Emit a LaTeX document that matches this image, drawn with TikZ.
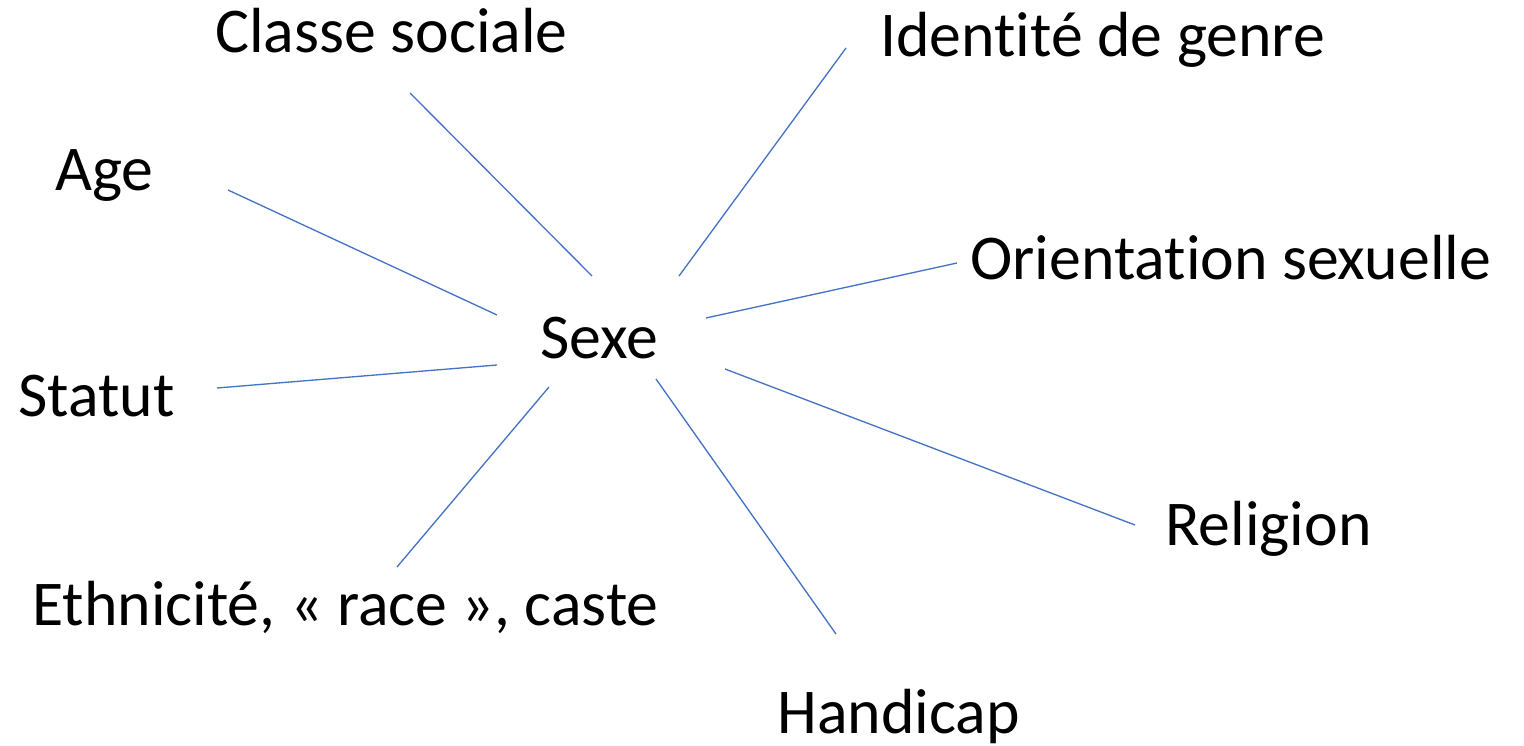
\documentclass[tikz,border=0pt]{standalone}
\usepackage{fontspec}
\setmainfont{Carlito}[RawFeature={-liga;-clig;-dlig}]
\usetikzlibrary{positioning}

\begin{document}
\begin{tikzpicture}[x=0.02cm, y=-0.02cm,
                font=\fontsize{36.3}{42}\selectfont,
                label/.style={inner sep=0pt, anchor=base west},
                spoke/.style={draw, color=spokeblue, line width=0.75pt},
            ]
            \definecolor{spokeblue}{HTML}{4472C4}
            \useasboundingbox (0,0) rectangle (1524,746);
            \node[label] (sexe) at (540,358) {Sexe};
            \node[label] (classe) at (215,53) {Classe sociale};
            \node[label] (genre) at (880,57) {Identité de genre};
            \node[label] (age) at (55,191) {Age};
            \node[label] (orient) at (970,280) {Orientation sexuelle};
            \node[label] (statut) at (18,416) {Statut};
            \node[label] (relig) at (1165,545) {Religion};
            \node[label] (ethn) at (32,625) {Ethnicité, « race », caste};
            \node[label] (handi) at (777,733) {Handicap};
            % free ends of the spokes
            \coordinate (c1) at (410,93);  \coordinate (s1) at (592,276);
            \coordinate (c2) at (846,48);  \coordinate (s2) at (679,276);
            \coordinate (c3) at (228,190); \coordinate (s3) at (497,315);
            \coordinate (c4) at (957,263); \coordinate (s4) at (706,318);
            \coordinate (c5) at (217,388); \coordinate (s5) at (497,365);
            \coordinate (c6) at (1135,525); \coordinate (s6) at (725,369);
            \coordinate (c7) at (397,567); \coordinate (s7) at (549,387);
            \coordinate (c8) at (836,634); \coordinate (s8) at (656,379);
            \foreach \i in {1,...,8}
                \path[spoke] (c\i) -- (s\i);
            \end{tikzpicture}
\end{document}
